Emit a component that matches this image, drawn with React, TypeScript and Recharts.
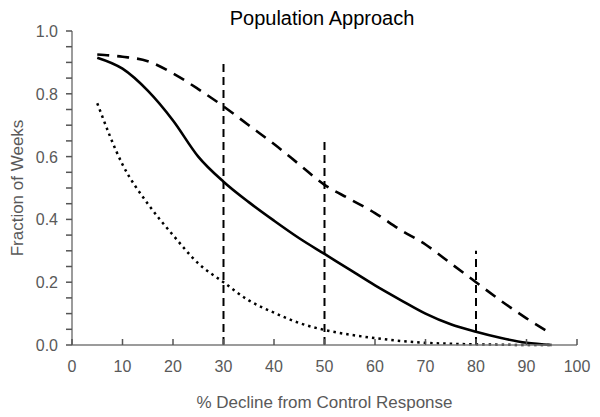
import React from 'react';
import { LineChart, Line, XAxis, YAxis, ReferenceLine, Label } from 'recharts';

// % decline from control response
const declines = [5, 10, 15, 20, 25, 30, 35, 40, 45, 50, 55, 60, 65, 70, 75, 80, 85, 90, 95];
const central = [0.915, 0.88, 0.81, 0.715, 0.6, 0.52, 0.455, 0.396, 0.34, 0.29, 0.24, 0.19, 0.144, 0.1, 0.066, 0.042, 0.022, 0.007, 0];
const upper = [0.925, 0.918, 0.904, 0.865, 0.815, 0.76, 0.7, 0.64, 0.575, 0.51, 0.465, 0.42, 0.367, 0.32, 0.26, 0.2, 0.14, 0.085, 0.035];
const lower = [0.77, 0.575, 0.45, 0.35, 0.26, 0.2, 0.142, 0.103, 0.07, 0.048, 0.033, 0.022, 0.013, 0.007, 0.004, 0.002, 0.001, 0, 0];

// vertical markers
const markerX = [30, 50, 80];
const markerTop = [0.9, 0.65, 0.3];

const xTicks = [0, 10, 20, 30, 40, 50, 60, 70, 80, 90, 100];
const yTicks = [0, 0.05, 0.1, 0.15, 0.2, 0.25, 0.3, 0.35, 0.4, 0.45, 0.5, 0.55, 0.6, 0.65, 0.7, 0.75, 0.8, 0.85, 0.9, 0.95, 1.0];

const data = declines.map((x, i) => ({ x, central: central[i], upper: upper[i], lower: lower[i] }));

const FONT = '"Liberation Sans", Arial, sans-serif';
const AXIS = '#7a7a7a';
const TEXT = '#595959';

// x ticks point up into the plot, labels below
function XTick(props: any) {
    const { x, y, payload } = props;
    return (
        <g>
            <rect x={x - 0.75} y={y - 6} width={1.5} height={6} fill="#555" />
            <text x={x} y={y + 27} textAnchor="middle" fill={TEXT} fontSize={16} fontFamily={FONT}>
                {payload.value}
            </text>
        </g>
    );
}

// every 0.05 gets a tick, every 0.2 a label
function YTick(props: any) {
    const { x, y, payload } = props;
    const v = payload.value;
    const major = Math.round(v * 100) % 20 === 0;
    return (
        <g>
            <rect x={x - 6} y={y - 0.75} width={6} height={1.5} fill="#555" />
            {major && (
                <text x={x - 14} y={y + 6} textAnchor="end" fill={TEXT} fontSize={16} fontFamily={FONT}>
                    {v.toFixed(1)}
                </text>
            )}
        </g>
    );
}

export default function App() {
    return (
        <div style={{ position: 'absolute', left: 0, top: 0, width: 600, height: 417, background: '#fff', fontFamily: FONT }}>
            <div
                style={{
                    position: 'absolute', left: 222, top: 8, width: 200, textAlign: 'center',
                    fontSize: 20, lineHeight: '20px', color: '#000', whiteSpace: 'nowrap',
                }}
            >
                Population Approach
            </div>
            <LineChart width={600} height={417} data={data} margin={{ top: 31, right: 23, left: 0, bottom: 0 }}>
                <XAxis
                    dataKey="x"
                    type="number"
                    domain={[0, 100]}
                    ticks={xTicks}
                    interval={0}
                    height={72}
                    stroke={AXIS}
                    strokeWidth={1.5}
                    tickLine={false}
                    tickSize={0}
                    tickMargin={0}
                    tick={<XTick />}
                >
                    <Label
                        content={({ viewBox }: any) => (
                            <text
                                x={viewBox.x + viewBox.width / 2}
                                y={viewBox.y + 63}
                                textAnchor="middle"
                                fill={TEXT}
                                fontSize={17}
                                fontFamily={FONT}
                            >
                                % Decline from Control Response
                            </text>
                        )}
                    />
                </XAxis>
                <YAxis
                    type="number"
                    domain={[0, 1]}
                    ticks={yTicks}
                    interval={0}
                    width={72}
                    stroke={AXIS}
                    strokeWidth={1.5}
                    tickLine={false}
                    tickSize={0}
                    tickMargin={0}
                    tick={<YTick />}
                >
                    <Label
                        content={({ viewBox }: any) => {
                            const cx = 23;
                            const cy = viewBox.y + viewBox.height / 2;
                            return (
                                <text
                                    x={cx}
                                    y={cy}
                                    transform={`rotate(-90, ${cx}, ${cy})`}
                                    textAnchor="middle"
                                    fill={TEXT}
                                    fontSize={17}
                                    fontFamily={FONT}
                                >
                                    Fraction of Weeks
                                </text>
                            );
                        }}
                    />
                </YAxis>
                {markerX.map((mx, i) => (
                    <ReferenceLine
                        key={mx}
                        segment={[{ x: mx, y: 0 }, { x: mx, y: markerTop[i] }]}
                        stroke="#000"
                        strokeWidth={2}
                        strokeDasharray="8 5"
                    />
                ))}
                <Line type="monotone" dataKey="upper" stroke="#000" strokeWidth={2.6} strokeDasharray="12 8" dot={false} isAnimationActive={false} />
                <Line type="monotone" dataKey="central" stroke="#000" strokeWidth={2.6} dot={false} isAnimationActive={false} />
                <Line type="monotone" dataKey="lower" stroke="#000" strokeWidth={2.5} strokeDasharray="2.5 4" dot={false} isAnimationActive={false} />
            </LineChart>
        </div>
    );
}
